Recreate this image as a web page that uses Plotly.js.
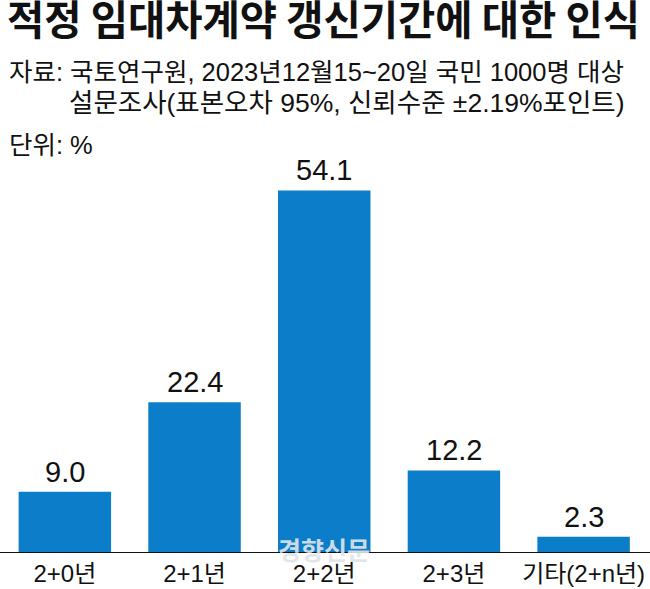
<!DOCTYPE html>
<html>
<head>
<meta charset="utf-8">
<script src="https://cdn.plot.ly/plotly-3.0.1.min.js"></script>
<style>
html, body { margin: 0; padding: 0; background: #fff; }
#chart { width: 650px; height: 589px; }
</style>
</head>
<body>
<div id="chart"></div>
<script>
const categories = ['2+0년', '2+1년', '2+2년', '2+3년', '기타(2+n년)'];
const values = [9.0, 22.4, 54.1, 12.2, 2.3];
const valueLabels = ['9.0', '22.4', '54.1', '12.2', '2.3'];
const titleText = '적정 임대차계약 갱신기간에 대한 인식';
const sourceLine1 = '자료: 국토연구원, 2023년12월15~20일 국민 1000명 대상';
const sourceLine2 = '설문조사(표본오차 95%, 신뢰수준 ±2.19%포인트)';
const unitText = '단위: %';
const watermark = '경향신문';

const LAT = '"Liberation Sans", Arial, "Noto Sans CJK KR", sans-serif';
const CJK = '"Noto Sans CJK KR", sans-serif';
const BAR = '#0b7dc9';

const trace = {
  type: 'bar',
  x: categories.map((c, i) => i),
  y: values,
  marker: { color: BAR, line: { width: 0 } },
  hoverinfo: 'skip'
};

const annotations = values.map((v, i) => ({
  x: i, y: v, xref: 'x', yref: 'y',
  text: valueLabels[i], showarrow: false,
  xanchor: 'center', yanchor: 'bottom', yshift: 2,
  font: { family: LAT, size: 29, color: '#111' }
}));

annotations.push(
  { xref: 'paper', yref: 'paper', x: 7/650, y: (552-72)/401, xanchor: 'left', yanchor: 'middle',
    text: sourceLine1, showarrow: false, font: { family: LAT, size: 25.5, color: '#111' } },
  { xref: 'paper', yref: 'paper', x: 67/650, y: (552-103)/401, xanchor: 'left', yanchor: 'middle',
    text: sourceLine2, showarrow: false, font: { family: LAT, size: 26.5, color: '#111' } },
  { xref: 'paper', yref: 'paper', x: 7/650, y: (552-145)/401, xanchor: 'left', yanchor: 'middle',
    text: unitText, showarrow: false, font: { family: LAT, size: 25.5, color: '#111' } },
  { xref: 'x', yref: 'paper', x: 2, y: (552-549)/401, xanchor: 'center', yanchor: 'middle',
    text: '<b>' + watermark + '</b>', showarrow: false,
    font: { family: CJK, size: 25, color: 'rgba(224,228,234,0.92)' } }
);

const layout = {
  width: 650, height: 589,
  margin: { l: 0, r: 0, t: 151, b: 37, pad: 0 },
  paper_bgcolor: '#fff', plot_bgcolor: '#fff',
  showlegend: false,
  bargap: 0.287,
  title: {
    text: titleText, x: 7/650, xanchor: 'left', xref: 'container',
    y: 1 - 21/589, yanchor: 'middle', yref: 'container',
    font: { family: CJK, size: 40.5, weight: 700, color: '#111' }
  },
  xaxis: {
    range: [-0.5, 4.512], tickmode: 'array',
    tickvals: categories.map((c, i) => i), ticktext: categories,
    showgrid: false, zeroline: false, showline: true, linecolor: '#111', linewidth: 1,
    ticks: '', ticklabelstandoff: 0, tickangle: 0,
    tickfont: { family: LAT, size: 24, color: '#111' }, fixedrange: true
  },
  yaxis: {
    range: [0, 60], visible: false, showgrid: false, zeroline: false, fixedrange: true
  },
  annotations: annotations
};

Plotly.newPlot('chart', [trace], layout, { displayModeBar: false, staticPlot: true });
</script>
</body>
</html>
